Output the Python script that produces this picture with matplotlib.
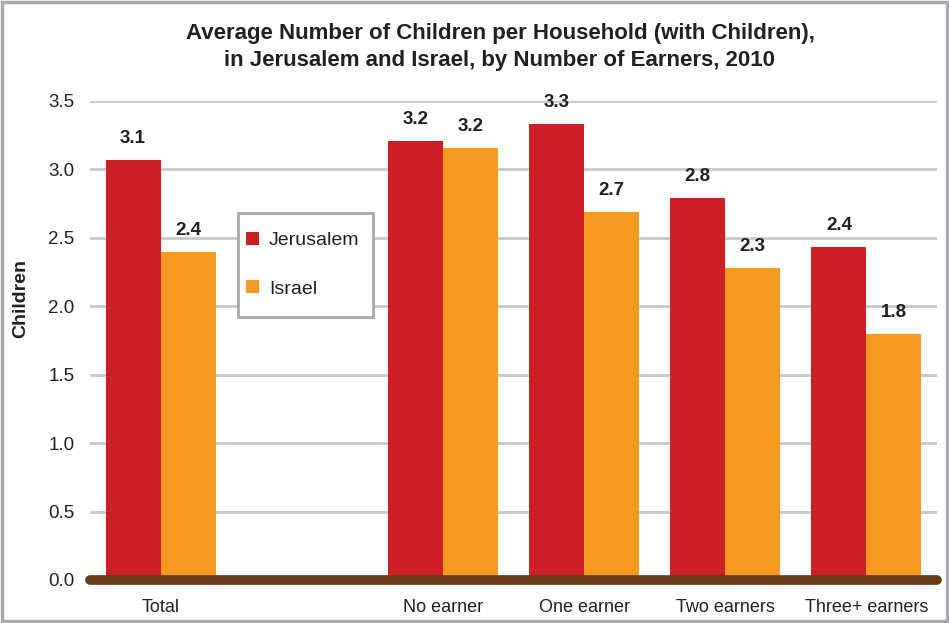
import matplotlib.pyplot as plt
import numpy as np

# ---------------------------------------------------------
# DATA
# ---------------------------------------------------------

categories = ["Total", "", "No earner", "One earner", "Two earners", "Three+ earners"]

jerusalem = [3.07, None, 3.21, 3.33, 2.79, 2.43]
israel = [2.40, None, 3.16, 2.69, 2.28, 1.80]

series_names = ["Jerusalem", "Israel"]
y_ticks = [0.0, 0.5, 1.0, 1.5, 2.0, 2.5, 3.0, 3.5]

title = ("Average Number of Children per Household (with Children),\n"
         "in Jerusalem and Israel, by Number of Earners, 2010")

# ---------------------------------------------------------
# STYLE
# ---------------------------------------------------------

plt.rcParams["font.family"] = ["Liberation Sans", "DejaVu Sans"]

RED = "#CE1F26"
ORANGE = "#F6991E"
BROWN = "#693A17"
GRID = "#C9C9C9"
TEXT = "#231F20"
FRAME = "#A7A9AC"

W, H = 949, 623
fig = plt.figure(figsize=(W / 100, H / 100), dpi=100)
ax = fig.add_axes([90 / W, 1 - 580 / H, (937 - 90) / W, (580 - 101) / H])


def px(xp, yp):
    # pixel position -> axes fraction
    return (xp - 90) / 847, 1 - (yp - 101) / 479


x = np.arange(len(categories))
width = 0.39

for vals, offset, color, name in [
    (jerusalem, -width / 2, RED, series_names[0]),
    (israel, width / 2, ORANGE, series_names[1]),
]:
    xs = [xi + offset for xi, v in zip(x, vals) if v is not None]
    ys = [v for v in vals if v is not None]
    ax.bar(xs, ys, width=width, color=color, label=name, zorder=3)
    for xi, v in zip(xs, ys):
        ax.annotate(f"{v:.1f}", (xi, v), xytext=(0, 15.5), textcoords="offset points",
                    ha="center", va="center", fontsize=13.5, fontweight="bold",
                    color=TEXT, clip_on=False)

# ---------------------------------------------------------
# AXES
# ---------------------------------------------------------

ax.set_xlim(-0.5, len(categories) - 0.5)
ax.set_ylim(0, 3.5)
ax.set_yticks(y_ticks)
ax.set_yticklabels([f"{t:.1f}" for t in y_ticks], fontsize=13.5, color=TEXT)
ax.set_xticks(x)
ax.set_xticklabels(categories, fontsize=13, color=TEXT)
ax.tick_params(axis="both", length=0)
ax.tick_params(axis="x", pad=14)
ax.tick_params(axis="y", pad=11)

for s in ax.spines.values():
    s.set_visible(False)

ax.grid(axis="y", color=GRID, linewidth=2, zorder=0)
ax.set_axisbelow(True)

# thick brown baseline
ax.plot([-0.5, len(categories) - 0.5], [0, 0], color=BROWN, linewidth=7,
        solid_capstyle="round", clip_on=False, zorder=4)

ax.set_ylabel("Children", fontsize=14, fontweight="bold", color=TEXT)
ax.yaxis.set_label_coords(-0.072, 0.587)

fig.text(500 / W, 0.963, title, fontsize=16, fontweight="bold", color=TEXT,
         ha="center", va="top", linespacing=1.4)

# ---------------------------------------------------------
# LEGEND
# ---------------------------------------------------------

leg = ax.legend(loc="upper left", bbox_to_anchor=px(246, 232),
                fontsize=14, frameon=False, handlelength=0.68,
                handleheight=0.68, labelspacing=1.57, borderpad=0, handletextpad=0.5,
                borderaxespad=0)
for t in leg.get_texts():
    t.set_color(TEXT)

bx0, by1 = px(238, 213)
bx1, by0 = px(373, 317)
ax.add_patch(plt.Rectangle((bx0, by0), bx1 - bx0, by1 - by0, transform=ax.transAxes,
                           facecolor="white", edgecolor=FRAME, linewidth=2, zorder=5))
leg.set_zorder(6)

# ---------------------------------------------------------
# OUTER FRAME
# ---------------------------------------------------------

fig.patches.append(plt.Rectangle((0.002, 0.003), 0.996, 0.994, transform=fig.transFigure,
                                 fill=False, edgecolor=FRAME, linewidth=2.5))

plt.savefig("out.png", dpi=100)
